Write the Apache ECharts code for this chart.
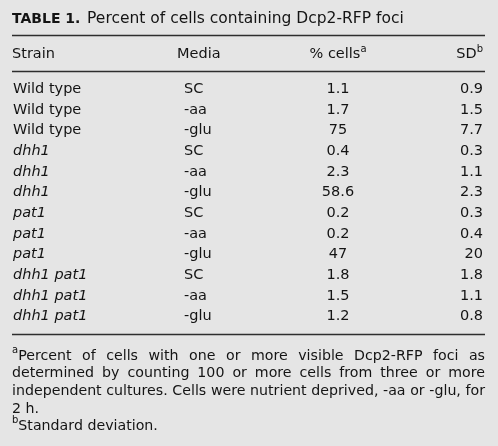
<!DOCTYPE html>
<html><head><meta charset="utf-8">
<script src="https://cdn.jsdelivr.net/npm/echarts@6/dist/echarts.min.js"></script>
<style>html,body{margin:0;padding:0;background:#e5e5e5}#c{width:498px;height:446px}</style>
</head><body><div id="c"></div>
<script>
// ---- data ----
const titleBold = 'TABLE 1.';
const titleText = 'Percent of cells containing Dcp2-RFP foci';
const headers = ['Strain', 'Media', '% cells', 'SD'];
const headerSup = ['', '', 'a', 'b'];
const strains = ['Wild type','Wild type','Wild type','dhh1','dhh1','dhh1','pat1','pat1','pat1','dhh1 pat1','dhh1 pat1','dhh1 pat1'];
const strainItalic = [false,false,false,true,true,true,true,true,true,true,true,true];
const media = ['SC','-aa','-glu','SC','-aa','-glu','SC','-aa','-glu','SC','-aa','-glu'];
const pctCells = ['1.1','1.7','75','0.4','2.3','58.6','0.2','0.2','47','1.8','1.5','1.2'];
const sdValues = ['0.9','1.5','7.7','0.3','1.1','2.3','0.3','0.4','20','1.8','1.1','0.8'];
const footnoteLines = [
  {sup:'a', text:'Percent of cells with one or more visible Dcp2-RFP foci as', justify:true},
  {sup:'', text:'determined by counting 100 or more cells from three or more', justify:true},
  {sup:'', text:'independent cultures. Cells were nutrient deprived, -aa or -glu, for', justify:true},
  {sup:'', text:'2 h.', justify:false},
  {sup:'b', text:'Standard deviation.', justify:false}
];

// ---- layout / style ----
const FONT = 'DejaVu Sans';
const FS = 14.5;
const FFS = 14.2;
const TXT = '#141414';
const LEFT = 12, RIGHT = 485;
const colAnchor = [13, 184, 338, 483];
const colAlign = ['left', 'left', 'center', 'right'];
const headerAnchor = [12, 177, 338, 483];
const headerY = 53;
const rules = [35.5, 71.5, 334.5];
const footTop = 354, footLH = 17.7;
const SUPFS = 10;

const ctx = document.createElement('canvas').getContext('2d');
function tw(s, size, style) { ctx.font = (style || 'normal') + ' ' + size + 'px ' + FONT; return ctx.measureText(s).width; }

const rowIds = strains.map((s, i) => 'r' + i);
const columns = [strains, media, pctCells, sdValues];

const series = columns.map((col, c) => ({
  type: 'scatter',
  symbolSize: 0,
  silent: true,
  itemStyle: { opacity: 1 },
  data: col.map((v, i) => {
    const item = { value: [colAnchor[c], i], name: String(v) };
    if (c === 0 && strainItalic[i]) item.label = { fontStyle: 'italic' };
    return item;
  }),
  label: {
    show: true,
    position: [0, 0],
    align: colAlign[c],
    verticalAlign: 'middle',
    formatter: p => p.name,
    fontFamily: FONT,
    fontSize: FS,
    color: TXT,
    opacity: 1
  }
}));

const graphic = [];
graphic.push({
  type: 'text', left: LEFT, top: 11,
  style: {
    text: '{b|' + titleBold + '}  {n|' + titleText + '}',
    rich: {
      b: { fontFamily: FONT, fontSize: 14, fontWeight: 'bold', fill: TXT, color: TXT },
      n: { fontFamily: FONT, fontSize: 15.5, fill: TXT, color: TXT }
    }
  }
});
rules.forEach(y => graphic.push({
  type: 'line', shape: { x1: LEFT, y1: y, x2: RIGHT, y2: y },
  style: { stroke: '#2e2e2e', lineWidth: 1.5 }
}));
headers.forEach((h, c) => {
  const txt = headerSup[c] ? '{n|' + h + '}{s|' + headerSup[c] + '}' : '{n|' + h + '}';
  graphic.push({
    type: 'text', x: headerAnchor[c], y: headerY,
    style: {
      text: txt, align: colAlign[c], verticalAlign: 'middle',
      rich: {
        n: { fontFamily: FONT, fontSize: FS, fill: TXT, lineHeight: 18, verticalAlign: 'bottom' },
        s: { fontFamily: FONT, fontSize: SUPFS, fill: TXT, lineHeight: 18, verticalAlign: 'top', padding: [0, 0, 6, 0] }
      }
    }
  });
});
footnoteLines.forEach((ln, li) => {
  const y = footTop + li * footLH;
  const words = ln.text.split(' ');
  const supW = ln.sup ? tw(ln.sup, SUPFS) : 0;
  const widths = words.map(w => tw(w, FFS));
  widths[0] += supW;
  const sum = widths.reduce((a, b) => a + b, 0);
  const gap = ln.justify && words.length > 1 ? (RIGHT - LEFT - sum) / (words.length - 1) : tw(' ', FFS);
  let x = LEFT;
  words.forEach((w, wi) => {
    let text = '{n|' + w + '}';
    if (wi === 0 && ln.sup) text = '{s|' + ln.sup + '}' + text;
    graphic.push({
      type: 'text', x: x, y: y,
      style: {
        text: text, align: 'left', verticalAlign: 'middle',
        rich: {
          n: { fontFamily: FONT, fontSize: FFS, fill: TXT, lineHeight: 18, verticalAlign: 'bottom' },
          s: { fontFamily: FONT, fontSize: SUPFS, fill: TXT, lineHeight: 18, verticalAlign: 'top', padding: [0, 0, 6, 0] }
        }
      }
    });
    x += widths[wi] + gap;
  });
});

const chart = echarts.init(document.getElementById('c'));
chart.setOption({
  backgroundColor: '#e5e5e5',
  animation: false,
  grid: { left: 0, right: 0, top: 79, height: 248 },
  xAxis: { type: 'value', min: 0, max: 498, show: false },
  yAxis: { type: 'category', data: rowIds, inverse: true, show: false },
  series: series,
  graphic: graphic
});
</script>
</body></html>
